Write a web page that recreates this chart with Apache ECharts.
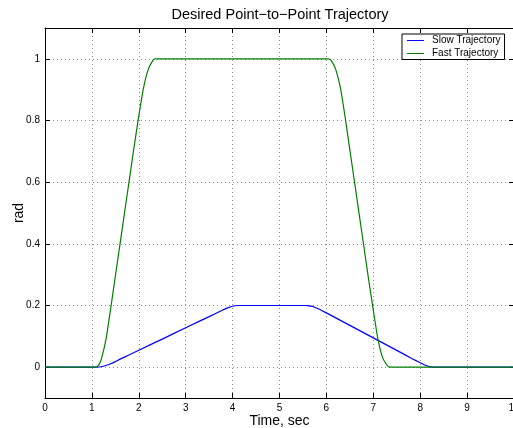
<!DOCTYPE html>
<html>
<head>
<meta charset="utf-8">
<script src="https://cdn.jsdelivr.net/npm/echarts@6/dist/echarts.min.js"></script>
<style>
html,body{margin:0;padding:0;background:#fff;}
#chart{width:513px;height:428px;}
</style>
</head>
<body>
<div id="chart"></div>
<script>
// ---- Data ----
var titleText = 'Desired Point\u2212to\u2212Point Trajectory';
var xTicks = [0, 1, 2, 3, 4, 5, 6, 7, 8, 9, 10];
var yTicks = [0, 0.2, 0.4, 0.6, 0.8, 1];
var seriesNames = ['Slow Trajectory', 'Fast Trajectory'];
var seriesColors = ['#0000ff', '#008000'];

var slowT = [0, 1.09, 1.2, 1.3, 1.4, 1.5, 1.6, 1.8, 2.0, 2.5, 3.0, 3.5, 3.8, 3.9, 4.0, 4.1,
             5.55, 5.6, 5.7, 5.8, 5.9, 6.0, 6.5, 7.0, 7.5, 7.8, 7.9, 8.0, 8.1, 8.2, 8.3, 10];
var slowV = [0, 0, 0.0014, 0.0055, 0.011, 0.018, 0.026, 0.040, 0.055, 0.091, 0.128, 0.164, 0.186, 0.193, 0.1975, 0.2,
             0.2, 0.1996, 0.197, 0.191, 0.184, 0.176, 0.1355, 0.095, 0.0545, 0.030, 0.022, 0.0145, 0.007, 0.002, 0, 0];

var fastT = [0, 1.08, 1.15, 1.2, 1.3, 1.4, 1.5, 1.6, 1.7, 1.8, 1.9, 2.0, 2.1, 2.2, 2.3, 2.35,
             6.04, 6.1, 6.2, 6.3, 6.4, 6.5, 6.6, 6.7, 6.8, 6.9, 7.0, 7.1, 7.2, 7.3, 7.35, 10];
var fastV = [0, 0, 0.008, 0.025, 0.09, 0.19, 0.295, 0.40, 0.505, 0.61, 0.715, 0.815, 0.905, 0.965, 0.995, 1,
             1, 0.995, 0.965, 0.905, 0.81, 0.705, 0.60, 0.495, 0.39, 0.285, 0.185, 0.09, 0.03, 0.005, 0, 0];

function zip(a, b) { var r = []; for (var i = 0; i < a.length; i++) r.push([a[i], b[i]]); return r; }

var FONT = 'Liberation Sans, Arial, Helvetica, sans-serif';
var chart = echarts.init(document.getElementById('chart'), null, {renderer: 'canvas'});

var dotted = {show: true, lineStyle: {color: '#8a8a8a', width: 1, type: [1, 3]}};
var axLine = {show: true, onZero: false, lineStyle: {color: '#000', width: 1}};

chart.setOption({
  animation: false,
  backgroundColor: '#fff',
  title: {
    text: titleText, left: 280, top: 7, textAlign: 'center', padding: 0,
    textStyle: {fontFamily: FONT, fontSize: 14.5, fontWeight: 'normal', color: '#000'}
  },
  legend: {
    data: [
      {name: seriesNames[0], icon: 'rect', itemStyle: {color: seriesColors[0], borderWidth: 0}},
      {name: seriesNames[1], icon: 'rect', itemStyle: {color: seriesColors[1], borderWidth: 0}}
    ],
    orient: 'vertical', left: 402, top: 34,
    padding: [0.5, 4, 0, 5], itemGap: 1, itemWidth: 17, itemHeight: 1,
    borderColor: '#000', borderWidth: 1, backgroundColor: '#fff', borderRadius: 0,
    textStyle: {fontFamily: FONT, fontSize: 10, lineHeight: 12, color: '#000', padding: [0, 0, 0, 3]}
  },
  grid: {left: 45, right: -1, top: 28, bottom: 30, containLabel: false, outerBoundsMode: 'none'},
  xAxis: [{
    type: 'value', min: 0, max: 10, interval: 1, position: 'bottom',
    name: 'Time, sec', nameLocation: 'middle', nameGap: 16, nameMoveOverlap: false,
    nameTextStyle: {fontFamily: FONT, fontSize: 14, color: '#000'},
    axisLine: axLine,
    axisTick: {show: true, inside: true, length: 5, lineStyle: {color: '#000'}},
    axisLabel: {fontFamily: FONT, fontSize: 10, color: '#000', margin: 5, hideOverlap: false},
    splitLine: dotted
  }, {
    type: 'value', min: 0, max: 10, interval: 1, position: 'top',
    axisLine: axLine,
    axisTick: {show: true, inside: true, length: 5, lineStyle: {color: '#000'}},
    axisLabel: {show: false}, splitLine: {show: false}
  }],
  yAxis: [{
    type: 'value', min: -0.1, max: 1.1, position: 'left',
    name: 'rad', nameLocation: 'middle', nameGap: 19, nameMoveOverlap: false,
    nameTextStyle: {fontFamily: FONT, fontSize: 14, color: '#000'},
    axisLine: axLine,
    axisTick: {show: true, inside: true, length: 5, lineStyle: {color: '#000'}, customValues: yTicks},
    axisLabel: {fontFamily: FONT, fontSize: 10, color: '#000', margin: 5, customValues: yTicks},
    splitLine: dotted
  }, {
    type: 'value', min: -0.1, max: 1.1, position: 'right',
    axisLine: axLine,
    axisTick: {show: true, inside: true, length: 5, lineStyle: {color: '#000'}, customValues: yTicks},
    axisLabel: {show: false}, splitLine: {show: false}
  }],
  series: [{
    name: seriesNames[0], type: 'line', data: zip(slowT, slowV),
    showSymbol: false, symbol: 'none', smooth: 0.2,
    lineStyle: {color: seriesColors[0], width: 1.2}, itemStyle: {color: seriesColors[0]}
  }, {
    name: seriesNames[1], type: 'line', data: zip(fastT, fastV),
    showSymbol: false, symbol: 'none', smooth: 0.2,
    lineStyle: {color: seriesColors[1], width: 1.2}, itemStyle: {color: seriesColors[1]}
  }]
});
</script>
</body>
</html>
